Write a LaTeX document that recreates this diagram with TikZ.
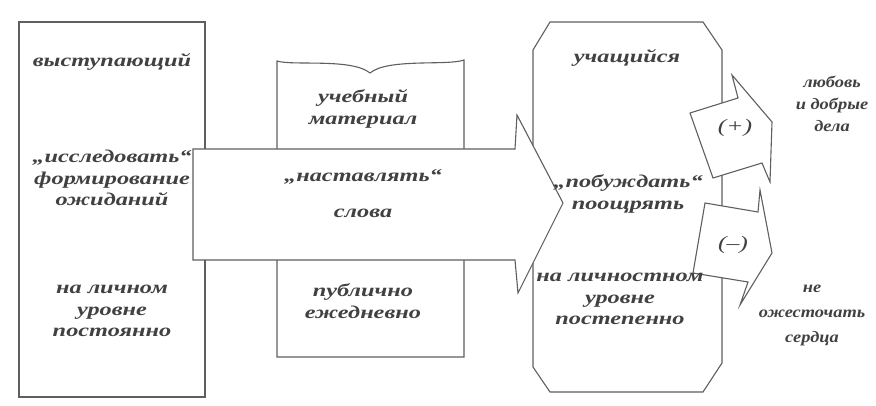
\documentclass[tikz,border=0pt]{standalone}
\usepackage{fontspec}
\newfontfamily\hand[FakeStretch=1.35]{Liberation Serif}
\newfontfamily\handnarrow[FakeStretch=1.15]{Liberation Serif}
\definecolor{linegray}{RGB}{95,95,95}
\definecolor{inkgray}{RGB}{65,65,65}

\begin{document}
\begin{tikzpicture}[x=1pt,y=-1pt,
	frame/.style={draw=linegray, line width=1.1pt, fill=white, line join=miter},
	word/.style={text=inkgray, font=\hand\bfseries\itshape\fontsize{18}{21.5}\selectfont, align=center, inner sep=0pt},
	note/.style={word, font=\handnarrow\bfseries\itshape\fontsize{16}{#1}\selectfont},
	sign/.style={text=inkgray, font=\hand\itshape\fontsize{19}{22}\selectfont, inner sep=0pt}]
\useasboundingbox (0,0) rectangle (876,406);

% boxes
\draw[frame] (19,22) rectangle (205,397);
\draw[frame] (277,357) -- (277,61) .. controls (292,66) and (352,58) .. (370,73)
	.. controls (388,58) and (448,66) .. (464,60) -- (464,357) -- cycle;
\draw[frame] (550,22) -- (703,22) -- (722,50) -- (722,363) -- (703,392) -- (550,392)
	-- (533,367) -- (533,50) -- cycle;

% big arrow
\draw[frame] (193,149) -- (515,149) -- (517,115) -- (563,203) -- (518,293)
	-- (515,260) -- (193,260) -- cycle;

% small arrows
\draw[frame] (690,113) -- (738,98) -- (732,75) -- (772,122) -- (770,182)
	-- (762,163) -- (713,178) -- cycle;
\draw[frame] (705,203) -- (758,212) -- (760,190) -- (772,253) -- (740,305)
	-- (748,282) -- (693,273) -- cycle;
\node[sign] (plus) at (735,128) {(+)};
\node[sign] (minus) at (733,245) {(–)};

% texts
\node[word] (speaker) at (112,62) {выступающий};
\node[word] (explore) at (112,178) {„исследовать“\\формирование\\ожиданий};
\node[word] (personal) at (112,311) {на личном\\уровне\\постоянно};
\node[word] (material) at (363,109) {учебный\\материал};
\node[word] (instruct) at (363,177) {„наставлять“};
\node[word] (words) at (363,213) {слова};
\node[word] (public) at (363,301) {публично\\ежедневно};
\node[word] (learner) at (627,58) {учащийся};
\node[word] (urge) at (628,194) {„побуждать“\\поощрять};
\node[word] (individual) at (620,299) {на личностном\\уровне\\постепенно};
\node[note=22] (love) at (832,104) {любовь\\и добрые\\дела};
\node[note=25] (harden) at (812,315) {не\\ожесточать\\сердца};
\end{tikzpicture}
\end{document}
